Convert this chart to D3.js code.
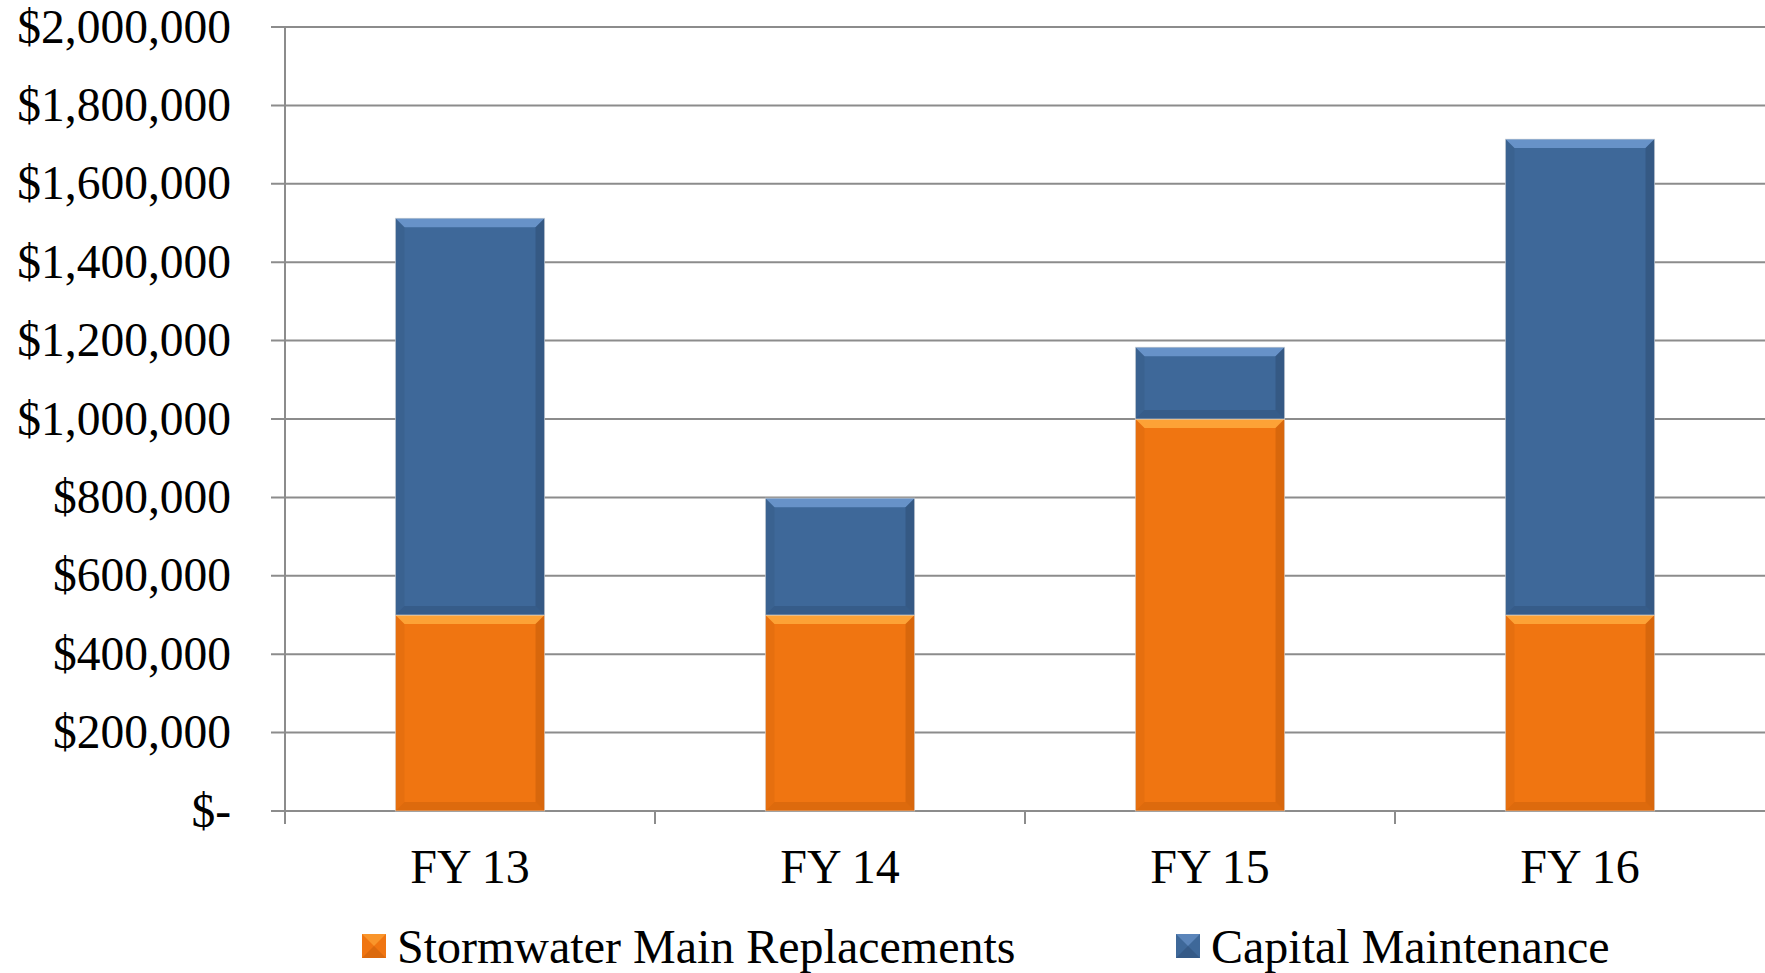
<!DOCTYPE html>
<html>
<head>
<meta charset="utf-8">
<script src="https://cdn.jsdelivr.net/npm/d3@7"></script>
<style>
  body { margin: 0; background: #fff; }
  text { font-family: "Liberation Serif", "Times New Roman", serif; fill: #000; }
</style>
</head>
<body>
<div id="chart"></div>
<script>
var categories = ["FY 13", "FY 14", "FY 15", "FY 16"];
var seriesNames = ["Stormwater Main Replacements", "Capital Maintenance"];
var stormwater = [500000, 500000, 1000000, 500000];
var capital = [1012000, 298000, 183000, 1214000];
var tickValues = [0, 200000, 400000, 600000, 800000, 1000000, 1200000, 1400000, 1600000, 1800000, 2000000];

var colors = ["#f07511", "#3e6899"];
var lightColors = ["#ffaa3d", "#6f9ad0"];
var darkColors = ["#c05a08", "#2b4a70"];

var W = 1765, H = 973;
var margin = {top: 27, right: 0, bottom: 162, left: 285},
    width = W - margin.left - margin.right,
    height = H - margin.top - margin.bottom;

var svg = d3.select("#chart")
  .append("svg")
    .attr("width", W)
    .attr("height", H)
  .append("g")
    .attr("transform", "translate(" + margin.left + "," + margin.top + ")");

var x = d3.scaleBand()
  .domain(categories)
  .range([0, width])
  .padding(0);

var y = d3.scaleLinear()
  .domain([0, 2000000])
  .range([height, 0]);

// gridlines
svg.append("g")
  .selectAll("line")
  .data(tickValues)
  .enter()
  .append("line")
    .attr("x1", -14)
    .attr("x2", width)
    .attr("y1", function(d) { return y(d); })
    .attr("y2", function(d) { return y(d); })
    .attr("stroke", "#8c8c8c")
    .attr("stroke-width", 2);

// y labels
var fmt = d3.format(",");
svg.append("g")
  .selectAll("text")
  .data(tickValues)
  .enter()
  .append("text")
    .attr("x", -54)
    .attr("y", function(d) { return y(d); })
    .attr("dy", "0.33em")
    .attr("text-anchor", "end")
    .style("font-size", "47.5px")
    .text(function(d) { return d === 0 ? "$-" : "$" + fmt(d); });

// y axis line
svg.append("line")
  .attr("x1", 0).attr("x2", 0)
  .attr("y1", 0).attr("y2", height + 13)
  .attr("stroke", "#8c8c8c")
  .attr("stroke-width", 2);

// x tick marks at category boundaries
svg.append("g")
  .selectAll("line")
  .data(categories.slice(1))
  .enter()
  .append("line")
    .attr("x1", function(d) { return x(d); })
    .attr("x2", function(d) { return x(d); })
    .attr("y1", height)
    .attr("y2", height + 13)
    .attr("stroke", "#8c8c8c")
    .attr("stroke-width", 2);

// x labels
svg.append("g")
  .selectAll("text")
  .data(categories)
  .enter()
  .append("text")
    .attr("x", function(d) { return x(d) + x.bandwidth() / 2; })
    .attr("y", height + 72)
    .attr("text-anchor", "middle")
    .style("font-size", "48px")
    .text(function(d) { return d; });

// stacked data
var rows = categories.map(function(c, i) {
  return {cat: c, s0: stormwater[i], s1: capital[i]};
});
var stack = d3.stack().keys(["s0", "s1"])(rows);

var barW = x.bandwidth() * 0.403;
var bev = 9;

function bevelBar(g, x0, y0, w, h, k) {
  g.append("rect")
    .attr("x", x0).attr("y", y0).attr("width", w).attr("height", h)
    .attr("fill", colors[k]);
  var b = Math.min(bev, h / 2, w / 2);
  // top
  g.append("path")
    .attr("d", "M" + x0 + "," + y0 + "L" + (x0 + w) + "," + y0 + "L" + (x0 + w - b) + "," + (y0 + b) + "L" + (x0 + b) + "," + (y0 + b) + "Z")
    .attr("fill", lightColors[k]).attr("opacity", 0.85);
  // bottom
  g.append("path")
    .attr("d", "M" + x0 + "," + (y0 + h) + "L" + (x0 + w) + "," + (y0 + h) + "L" + (x0 + w - b) + "," + (y0 + h - b) + "L" + (x0 + b) + "," + (y0 + h - b) + "Z")
    .attr("fill", darkColors[k]).attr("opacity", 0.4);
  // left
  g.append("path")
    .attr("d", "M" + x0 + "," + y0 + "L" + (x0 + b) + "," + (y0 + b) + "L" + (x0 + b) + "," + (y0 + h - b) + "L" + x0 + "," + (y0 + h) + "Z")
    .attr("fill", darkColors[k]).attr("opacity", 0.2);
  // right
  g.append("path")
    .attr("d", "M" + (x0 + w) + "," + y0 + "L" + (x0 + w - b) + "," + (y0 + b) + "L" + (x0 + w - b) + "," + (y0 + h - b) + "L" + (x0 + w) + "," + (y0 + h) + "Z")
    .attr("fill", darkColors[k]).attr("opacity", 0.5);
  g.append("rect")
    .attr("x", x0).attr("y", y0).attr("width", w).attr("height", h)
    .attr("fill", "none").attr("stroke", "#d8d8d8").attr("stroke-width", 1).attr("opacity", 0.6);
}

stack.forEach(function(layer, k) {
  var g = svg.append("g");
  layer.forEach(function(d) {
    var cx = x(d.data.cat) + x.bandwidth() / 2 - barW / 2;
    bevelBar(g, cx, y(d[1]), barW, y(d[0]) - y(d[1]), k);
  });
});

// legend
var legendX = [362, 1176];
var legend = d3.select("svg").append("g");
seriesNames.forEach(function(name, k) {
  var lg = legend.append("g").attr("transform", "translate(" + legendX[k] + ",934)");
  var sq = 24;
  lg.append("rect").attr("width", sq).attr("height", sq).attr("fill", colors[k]);
  lg.append("path")
    .attr("d", "M0,0L" + sq + ",0L" + (sq / 2) + "," + (sq / 2) + "Z")
    .attr("fill", lightColors[k]).attr("opacity", 0.6);
  lg.append("path")
    .attr("d", "M0," + sq + "L" + sq + "," + sq + "L" + (sq / 2) + "," + (sq / 2) + "Z")
    .attr("fill", darkColors[k]).attr("opacity", 0.45);
  lg.append("text")
    .attr("x", 35)
    .attr("y", 29)
    .style("font-size", "48px")
    .text(name);
});
</script>
</body>
</html>
